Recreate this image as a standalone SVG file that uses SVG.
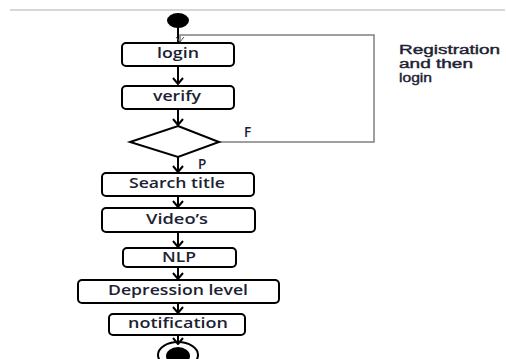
<svg xmlns="http://www.w3.org/2000/svg" width="506" height="359" viewBox="0 0 506 359">
<style>
.box{fill:#fff;stroke:#000;stroke-width:2}
.t{font-family:"Open Sans","Liberation Sans",sans-serif;font-size:13.5px;font-weight:600;fill:#1c2233}
.n{font-family:"Liberation Sans",Arial,sans-serif;font-size:12.5px;fill:#1c2233;stroke:#1c2233;stroke-width:0.4}
.c{stroke:#000;stroke-width:2;fill:none}
.fb{stroke:#808080;stroke-width:1.5;fill:none}
</style>
<defs>
<marker id="ah" markerWidth="8" markerHeight="12" refX="7" refY="6" orient="auto" markerUnits="userSpaceOnUse" viewBox="0 0 8 12">
<path d="M1,1 L7,6 L1,11" fill="none" stroke="#000" stroke-width="2"/>
</marker>
<marker id="ahs" markerWidth="8" markerHeight="10" refX="7" refY="5" orient="auto" markerUnits="userSpaceOnUse" viewBox="0 0 8 10">
<path d="M2,1 L7,5 L2,9" fill="none" stroke="#555" stroke-width="1"/>
</marker>
</defs>
<line x1="10" y1="10" x2="505" y2="10" stroke="#c8c8d2" stroke-width="1.5"/>
<g id="connectors">
<line class="c" x1="178" y1="27" x2="178" y2="42" stroke-width="1"/>
<polyline class="fb" points="219,142 374,142 374,35 180,35 180,42" marker-end="url(#ahs)"/>
<line class="c" x1="178" y1="66" x2="178" y2="84" marker-end="url(#ah)"/>
<line class="c" x1="178" y1="109" x2="178" y2="125" marker-end="url(#ah)"/>
<line class="c" x1="178" y1="157" x2="178" y2="172" marker-end="url(#ah)"/>
<line class="c" x1="178" y1="196" x2="178" y2="207" marker-end="url(#ah)"/>
<line class="c" x1="178" y1="232" x2="178" y2="247" marker-end="url(#ah)"/>
<line class="c" x1="178" y1="267" x2="178" y2="279" marker-end="url(#ah)"/>
<line class="c" x1="178" y1="303" x2="178" y2="313" marker-end="url(#ah)"/>
<line class="c" x1="178" y1="335" x2="178" y2="344" marker-end="url(#ah)"/>
<text class="t" x="244" y="137">F</text>
<text class="t" x="198" y="169">P</text>
</g>
<g id="start"><ellipse cx="178" cy="20.5" rx="11" ry="7.5" fill="#000"/></g>
<g id="login"><rect class="box" x="122" y="43" width="112" height="23" rx="4"/><text class="t" x="157" y="58" textLength="42" lengthAdjust="spacingAndGlyphs">login</text></g>
<g id="verify"><rect class="box" x="122" y="86" width="112" height="23" rx="4"/><text class="t" x="153" y="101" textLength="48" lengthAdjust="spacingAndGlyphs">verify</text></g>
<g id="decision"><polygon points="178,126 219,142 178,157 130,142" fill="#fff" stroke="#000" stroke-width="2"/></g>
<g id="search"><rect class="box" x="102" y="173" width="152" height="23" rx="4"/><text class="t" x="129" y="188" textLength="96" lengthAdjust="spacingAndGlyphs">Search title</text></g>
<g id="videos"><rect class="box" x="102" y="208" width="153" height="24" rx="4"/><text class="t" x="146" y="224" textLength="62" lengthAdjust="spacingAndGlyphs">Video’s</text></g>
<g id="nlp"><rect class="box" x="123" y="248" width="113" height="19" rx="4"/><text class="t" x="162" y="262" textLength="34" lengthAdjust="spacingAndGlyphs">NLP</text></g>
<g id="depression"><rect class="box" x="78" y="280" width="201" height="23" rx="4"/><text class="t" x="108" y="295" textLength="140" lengthAdjust="spacingAndGlyphs">Depression level</text></g>
<g id="notification"><rect class="box" x="109" y="314" width="136" height="21" rx="4"/><text class="t" x="128" y="328" textLength="100" lengthAdjust="spacingAndGlyphs">notification</text></g>
<g id="end"><ellipse cx="178" cy="355" rx="20" ry="13" fill="none" stroke="#000" stroke-width="2"/><ellipse cx="178" cy="356" rx="12" ry="9" fill="#000"/></g>
<g id="note">
<text class="n" x="399" y="54" textLength="101" lengthAdjust="spacingAndGlyphs">Registration</text>
<text class="n" x="399" y="68" textLength="74" lengthAdjust="spacingAndGlyphs">and then</text>
<text class="n" x="399" y="82" textLength="33" lengthAdjust="spacingAndGlyphs">login</text>
</g>
</svg>
